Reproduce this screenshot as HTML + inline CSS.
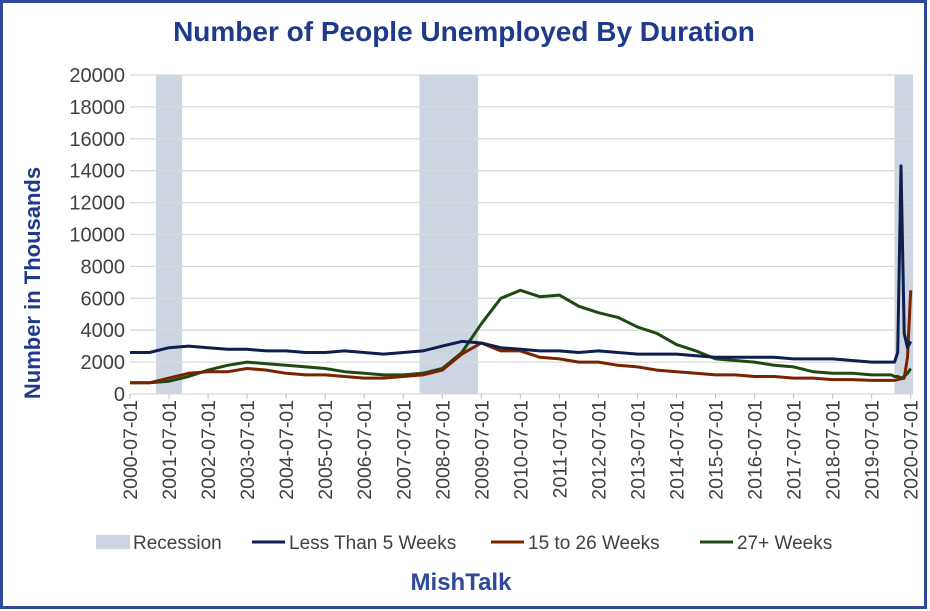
<!DOCTYPE html>
<html><head><meta charset="utf-8"><style>
body{margin:0;background:#fff;}
#wrap{position:relative;width:930px;height:611px;overflow:hidden;background:#fff;font-family:"Liberation Sans",sans-serif;}
</style></head><body>
<div id="wrap">
<svg id="chart" width="930" height="611"></svg>
</div>
<script>
const dates=["2000-07","2001-01","2001-07","2002-01","2002-07","2003-01","2003-07","2004-01","2004-07","2005-01","2005-07","2006-01","2006-07","2007-01","2007-07","2008-01","2008-07","2009-01","2009-07","2010-01","2010-07","2011-01","2011-07","2012-01","2012-07","2013-01","2013-07","2014-01","2014-07","2015-01","2015-07","2016-01","2016-07","2017-01","2017-07","2018-01","2018-07","2019-01","2019-07","2020-01","2020-02","2020-03","2020-04","2020-05","2020-06","2020-07"];
const lessThan5=[2600,2600,2900,3000,2900,2800,2800,2700,2700,2600,2600,2700,2600,2500,2600,2700,3000,3300,3200,2900,2800,2700,2700,2600,2700,2600,2500,2500,2500,2400,2300,2300,2300,2300,2200,2200,2200,2100,2000,2000,2000,2600,14300,3800,2900,3300];
const weeks15to26=[700,700,1000,1300,1400,1400,1600,1500,1300,1200,1200,1100,1000,1000,1100,1200,1500,2500,3200,2700,2700,2300,2200,2000,2000,1800,1700,1500,1400,1300,1200,1200,1100,1100,1000,1000,900,900,850,850,850,900,950,1000,2300,6500];
const weeks27plus=[700,700,800,1100,1500,1800,2000,1900,1800,1700,1600,1400,1300,1200,1200,1300,1600,2600,4400,6000,6500,6100,6200,5500,5100,4800,4200,3800,3100,2700,2200,2100,2000,1800,1700,1400,1300,1300,1200,1200,1100,1100,1000,1100,1300,1600];
const recessions=[["2001-03","2001-11"],["2007-12","2009-06"],["2020-02","2020-08"]];
const yTicks=[0,2000,4000,6000,8000,10000,12000,14000,16000,18000,20000];
const xTickLabels=["2000-07-01","2001-07-01","2002-07-01","2003-07-01","2004-07-01","2005-07-01","2006-07-01","2007-07-01","2008-07-01","2009-07-01","2010-07-01","2011-07-01","2012-07-01","2013-07-01","2014-07-01","2015-07-01","2016-07-01","2017-07-01","2018-07-01","2019-07-01","2020-07-01"];

const NS="http://www.w3.org/2000/svg";
const svg=document.getElementById('chart');
const L=130,R=913,T=75,B=394;
function mi(d){const p=d.split('-');return (+p[0]-2000)*12+(+p[1]-7);}
function X(d){return L+mi(d)*3.253;}
function Y(v){return B-(v/20000)*(B-T);}
function el(t,a,txt){const e=document.createElementNS(NS,t);for(const k in a)e.setAttribute(k,a[k]);if(txt!==undefined)e.textContent=txt;svg.appendChild(e);return e;}

let e=el('rect',{x:1.5,y:1.5,width:924,height:606,fill:'#fff',stroke:'#2E4A9A','stroke-width':3});


e=el('text',{x:464,y:41,'text-anchor':'middle','font-size':28,'font-weight':'bold',fill:'#1F3A8A'},'Number of People Unemployed By Duration');



recessions.forEach(r=>{
  const x1=X(r[0]),x2=Math.min(X(r[1]),R);
  const rr=el('rect',{x:x1,y:T,width:x2-x1,height:B-T,fill:'#CDD5E2'});
  
  
});
yTicks.forEach(v=>{
  const g=el('line',{x1:L,x2:R,y1:Y(v),y2:Y(v),stroke:'#D9D9D9','stroke-width':1.3});
  
  
  const t=el('text',{x:L-5,y:Y(v)+7,'text-anchor':'end','font-size':20,fill:'#404040'},String(v));
  
  
});
xTickLabels.forEach(s=>{
  const x=X(s.slice(0,7));
  const tk=el('line',{x1:x,x2:x,y1:B,y2:B+5,stroke:'#BFBFBF'});
  
  
  const t=el('text',{x:0,y:0,'text-anchor':'end','font-size':19.5,fill:'#404040',transform:`translate(${x+7},${B+6}) rotate(-90)`},s);
  
  
});
e=el('text',{x:0,y:0,'text-anchor':'middle','font-size':22,'font-weight':'bold',fill:'#1F3A8A',transform:'translate(40,283) rotate(-90)'},'Number in Thousands');



function series(vals,color,name){
  const pts=vals.map((v,i)=>X(dates[i]).toFixed(1)+','+Y(v).toFixed(1)).join(' ');
  const p=el('polyline',{points:pts,fill:'none',stroke:color,'stroke-width':3,'stroke-linejoin':'round'});
  
  
}
series(weeks27plus,'#1E4A12','line-27-plus-weeks');
series(weeks15to26,'#7A2300','line-15-to-26-weeks');
series(lessThan5,'#0F1E4F','line-less-than-5-weeks');

const legend=[["Recession","rect","#CDD5E2",96],["Less Than 5 Weeks","line","#0F1E4F",252],["15 to 26 Weeks","line","#7A2300",491],["27+ Weeks","line","#1E4A12",700]];
legend.forEach(l=>{
  let m;
  if(l[1]==='rect') m=el('rect',{x:l[3],y:535,width:34,height:14,fill:l[2]});
  else m=el('line',{x1:l[3],x2:l[3]+33,y1:542,y2:542,stroke:l[2],'stroke-width':3});
  
  
  const t=el('text',{x:l[3]+37,y:549,'font-size':19,fill:'#404040'},l[0]);
  
  
});
e=el('text',{x:461,y:590,'text-anchor':'middle','font-size':24,'font-weight':'bold',fill:'#2E4A9A'},'MishTalk');


</script>
</body></html>
